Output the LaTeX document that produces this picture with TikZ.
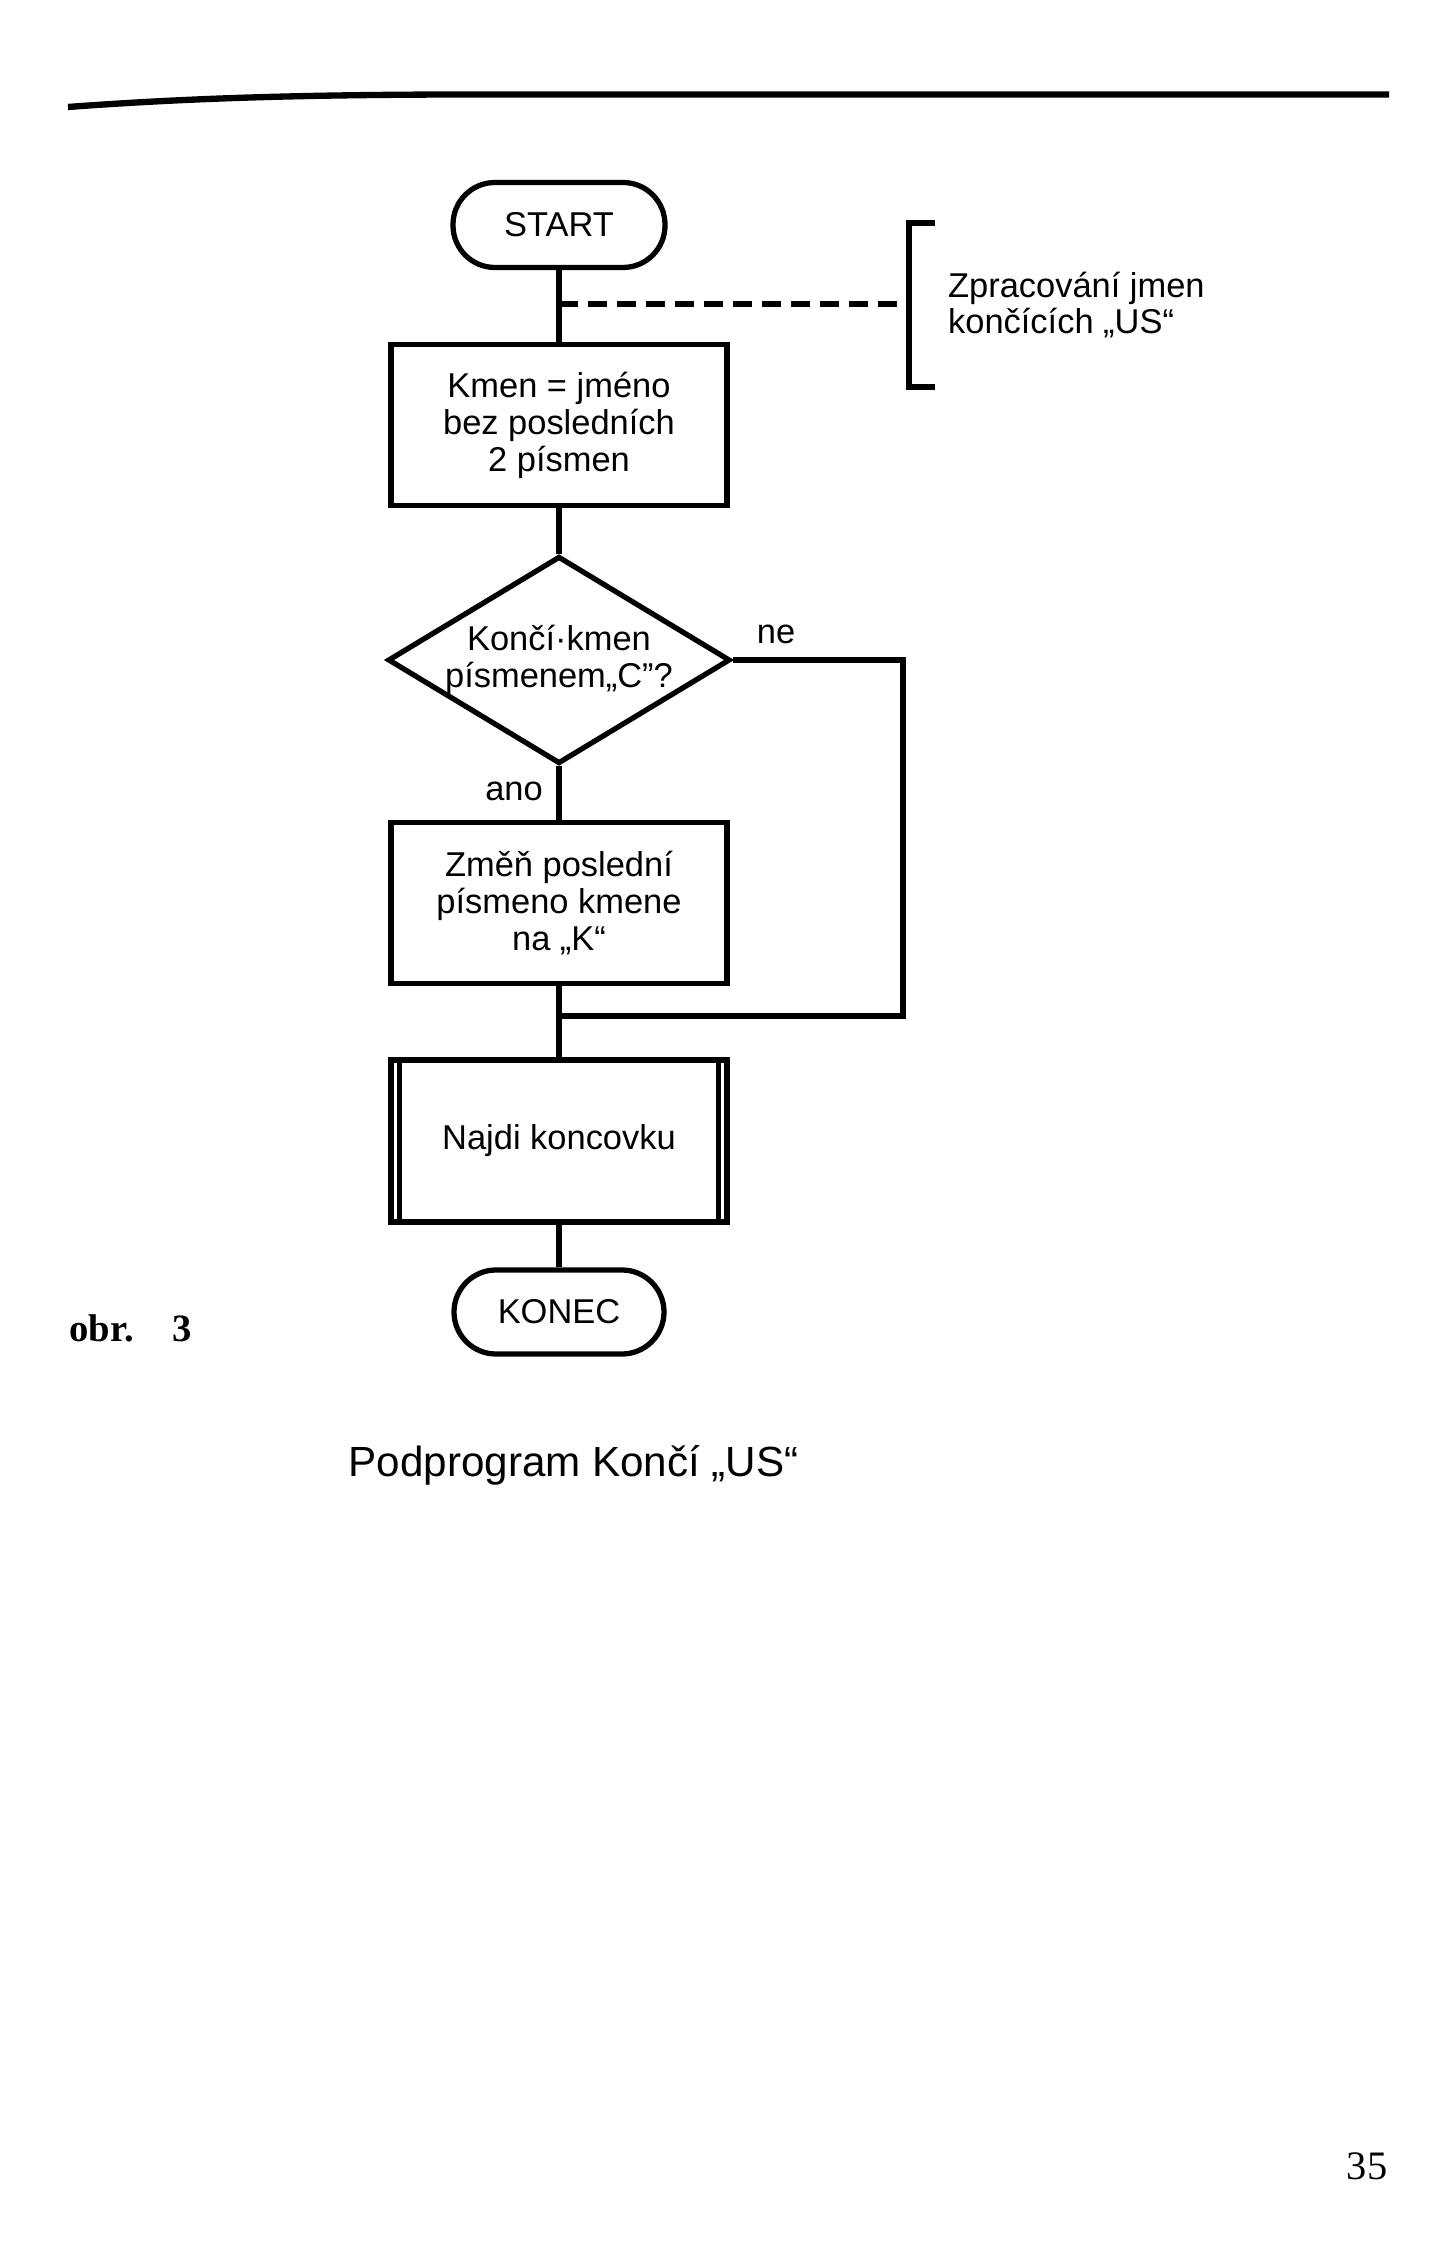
\documentclass[tikz,border=0pt]{standalone}
\usepackage{fontspec}
\setmainfont{Liberation Sans}
\newfontfamily\bookserif{Liberation Serif}
\usepackage{tikz}
\usetikzlibrary{shapes,arrows,positioning,calc}

\begin{document}
\begin{tikzpicture}[
        line width=1.5pt,
        flowfont/.style={font=\fontsize{9.8}{10.5}\selectfont},
        terminal/.style={draw, flowfont, rounded corners=0.42cm, minimum width=2.12cm, minimum height=0.85cm},
        stepbox/.style={draw, flowfont, align=center, minimum width=3.36cm, minimum height=1.61cm},
        decision/.style={draw, flowfont, diamond, aspect=1.65, inner sep=0pt, align=center, minimum width=3.36cm, minimum height=2.06cm},
        flowlabel/.style={flowfont, inner sep=1pt}
    ]
        \useasboundingbox (0,0) rectangle (14.53,-22.50);

        % Page rule
        \draw[line width=1.8pt] (0.68,-1.07) .. controls (1.9,-0.98) and (3.0,-0.95) .. (4.5,-0.945) -- (13.89,-0.945);

        % Start
        \node[terminal] (start) at (5.59,-2.25) {START};

        % Stem
        \node[stepbox] (stem) at (5.59,-4.25) {Kmen = jméno\\bez posledních\\2 písmen};

        % Comment bracket
        \coordinate (dashstart) at (5.59,-3.04);
        \coordinate (brk) at (9.09,-3.04);
        \draw (9.35,-2.23) -- (9.09,-2.23) -- (9.09,-3.87) -- (9.35,-3.87);
        \node[flowlabel, anchor=west, align=left] (note) at (9.42,-3.05) {Zpracování jmen\\končících „US“};

        % Test
        \node[decision] (test) at (5.59,-6.60) {Končí·kmen\\písmenem„C"?};

        % Change
        \node[stepbox] (change) at (5.59,-9.03) {Změň poslední\\písmeno kmene\\na „K“};

        % Subroutine
        \node[stepbox, minimum height=1.62cm] (ending) at (5.59,-11.41) {Najdi koncovku};
        \draw ([xshift=0.11cm]ending.north west) -- ([xshift=0.11cm]ending.south west);
        \draw ([xshift=-0.11cm]ending.north east) -- ([xshift=-0.11cm]ending.south east);

        % End
        \node[terminal, minimum width=2.1cm, minimum height=0.84cm] (stop) at (5.59,-13.12) {KONEC};

        % Connectors
        \coordinate (join) at (5.59,-10.16);
        \coordinate (turn) at (9.03,-6.60);
        \draw (start) -- (stem);
        \draw[dash pattern=on 0.19cm off 0.1cm] (dashstart) -- (brk);
        \draw (stem) -- (test);
        \draw (test) -- (change);
        \draw (test.east) -- (turn) |- (join);
        \draw (change) -- (ending);
        \draw (ending) -- (stop);

        % Branch labels
        \node[flowlabel] (yes) at (5.14,-7.91) {ano};
        \node[flowlabel] (no) at (7.76,-6.34) {ne};

        % Captions
        \node[anchor=west, font=\bookserif\bfseries\fontsize{11}{13}\selectfont, inner sep=0pt] (fig) at (0.67,-13.28) {obr.\quad 3};
        \node[anchor=west, font=\fontsize{12}{14}\selectfont, inner sep=0pt] (title) at (3.46,-14.65) {Podprogram Končí „US“};
        \node[font=\bookserif\fontsize{11.5}{13}\selectfont, inner sep=0pt] (page) at (13.67,-21.66) {35};
    \end{tikzpicture}
\end{document}
